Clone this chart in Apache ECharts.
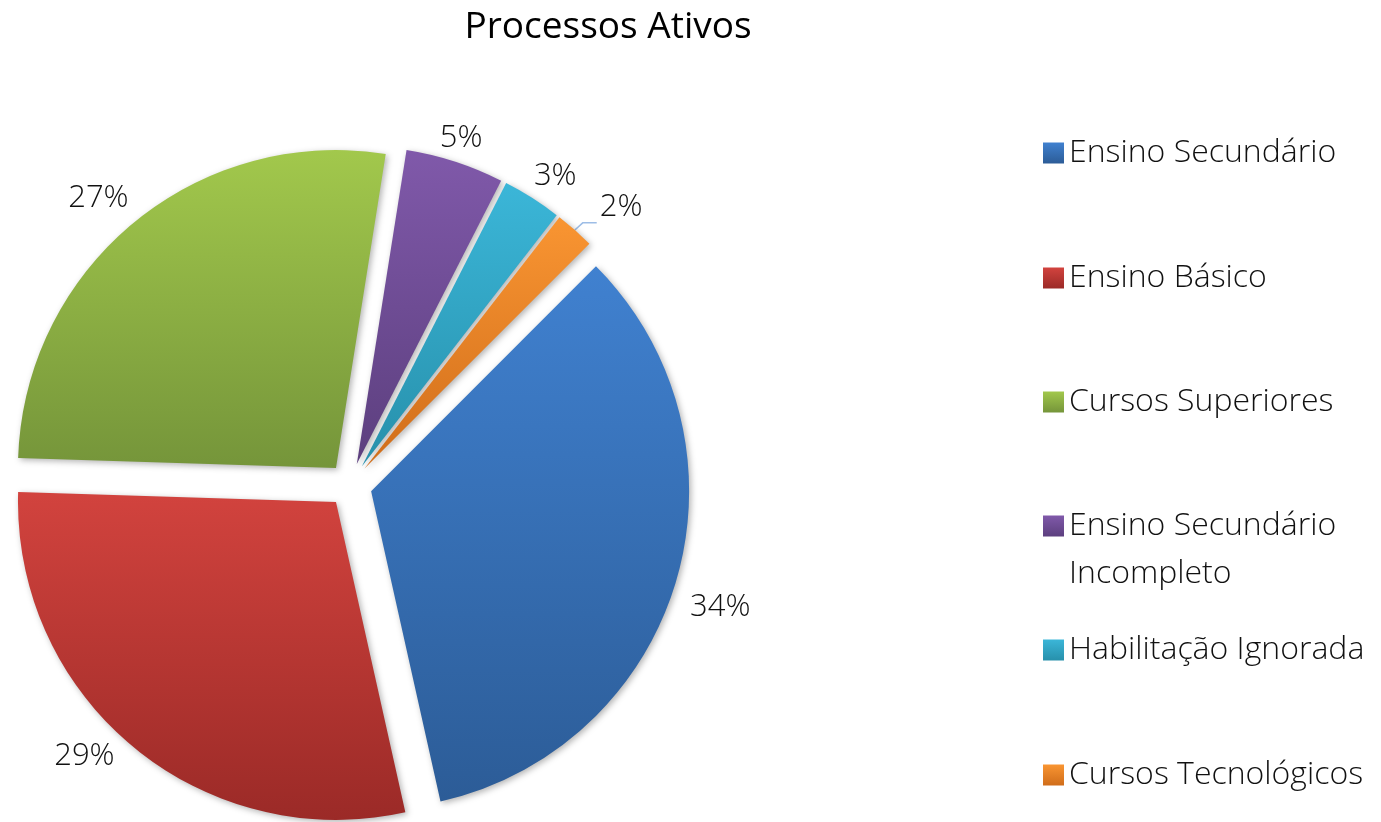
<!DOCTYPE html>
<html>
<head>
<meta charset="utf-8">
<script src="https://cdn.jsdelivr.net/npm/echarts@6/dist/echarts.min.js"></script>
<style>
  html, body { margin: 0; padding: 0; background: #fff; }
  #chart { width: 1381px; height: 822px; }
</style>
</head>
<body>
<div id="chart"></div>
<script>
const names = ['Ensino Secundário', 'Ensino Básico', 'Cursos Superiores', 'Ensino Secundário Incompleto', 'Habilitação Ignorada', 'Cursos Tecnológicos']
const values = [34, 29, 27, 5, 3, 2]
const colorsTop = ['#4081d0', '#d2433e', '#a2c84c', '#8059aa', '#3bb6d8', '#f99532']
const colorsBottom = ['#2c5c97', '#9b2a27', '#75953a', '#5c3f7e', '#2790ab', '#d06d1a']
const legendTops = [152, 277, 401, 525, 649, 774]
// nudges so the percent labels sit where excel put them
const labelNudge = [[-3, 24], [-6, 0], [8, -16], [-24, -12], [-7, -12], [-2, -16]]

const font = '"Open Sans", "Noto Sans", sans-serif'
const chart = echarts.init(document.getElementById('chart'))

const grad = i => new echarts.graphic.LinearGradient(0, 0, 0, 1, [
  { offset: 0, color: colorsTop[i] },
  { offset: 1, color: colorsBottom[i] }
])

const legendText = {
  fontFamily: font,
  fontSize: 32,
  fontWeight: 300,
  color: '#111'
}

// long name wraps in the original, second line is drawn below the legend row
const legends = names.map((n, i) => ({
  data: [n],
  left: 1038,
  top: legendTops[i] - 20,
  orient: 'vertical',
  icon: 'rect',
  itemWidth: 21,
  itemHeight: 21,
  itemGap: 0,
  selectedMode: false,
  formatter: n === 'Ensino Secundário Incompleto' ? 'Ensino Secundário' : '{name}',
  textStyle: legendText
}))

chart.setOption({
  animation: false,
  title: {
    text: 'Processos Ativos',
    left: 603,
    top: 4,
    textAlign: 'center',
    textStyle: { fontFamily: font, fontSize: 37, fontWeight: 'normal', color: '#000' }
  },
  legend: legends,
  graphic: [{
    type: 'text',
    left: 1069,
    top: legendTops[3] + 33,
    style: { text: 'Incompleto', fill: '#111', font: '300 32px ' + font }
  }],
  series: [{
    type: 'pie',
    center: [350, 485],
    radius: [0, 318],
    startAngle: 45,
    clockwise: true,
    selectedMode: 'multiple',
    selectedOffset: 22,
    emphasis: { disabled: true },
    label: {
      position: 'outside',
      formatter: '{c}%',
      fontFamily: font,
      fontSize: 31,
      fontWeight: 300,
      color: '#111'
    },
    labelLine: { show: false, length: 12, length2: 0 },
    labelLayout: p => ({ dx: labelNudge[p.dataIndex][0], dy: labelNudge[p.dataIndex][1] }),
    itemStyle: {
      shadowBlur: 6,
      shadowColor: 'rgba(0,0,0,0.3)',
      shadowOffsetX: 2,
      shadowOffsetY: 2
    },
    data: names.map((n, i) => ({
      name: n,
      value: values[i],
      selected: true,
      itemStyle: { color: grad(i) },
      labelLine: i === 5 ? { show: true, length: 14, length2: 14, lineStyle: { color: '#9dbde6', width: 1.5 } } : undefined
    }))
  }]
})
</script>
</body>
</html>
